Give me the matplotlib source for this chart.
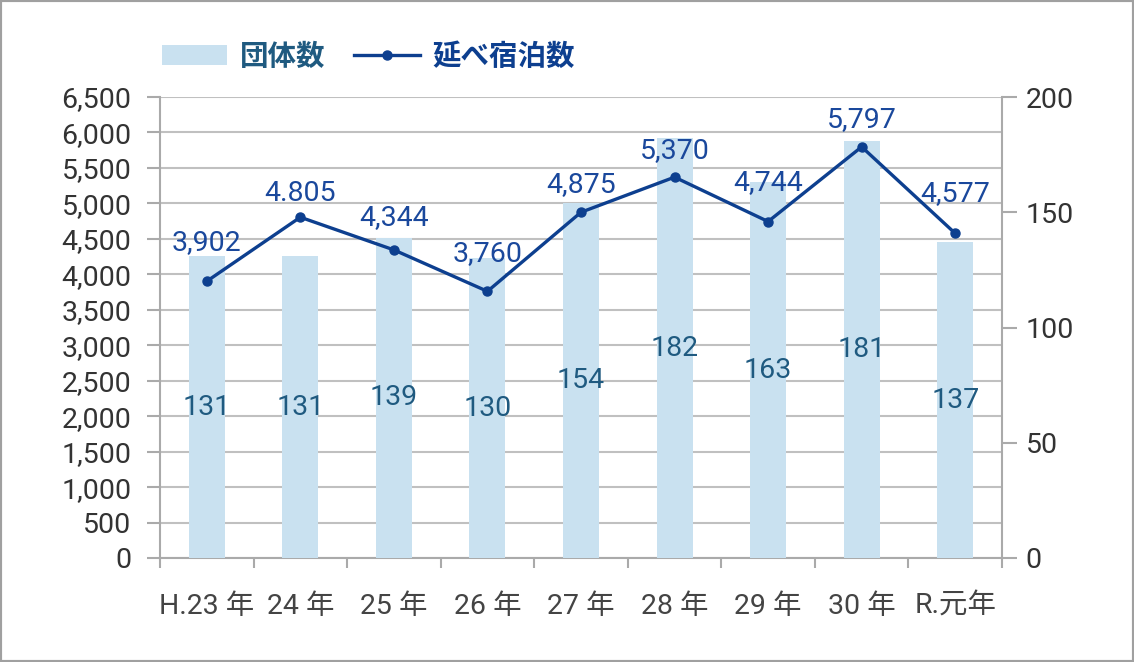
import numpy as np
import matplotlib
matplotlib.use("Agg")
import matplotlib.pyplot as plt
from matplotlib.patches import Patch, Rectangle
from matplotlib.lines import Line2D

plt.rcParams['font.family'] = ['Roboto', 'Noto Sans CJK JP', 'DejaVu Sans']

# Data
years = ["H.23 年", "24 年", "25 年", "26 年", "27 年", "28 年", "29 年", "30 年", "R.元年"]
groups = [131, 131, 139, 130, 154, 182, 163, 181, 137]           # 団体数 (right axis)
stays = [3902, 4805, 4344, 3760, 4875, 5370, 4744, 5797, 4577]    # 延べ宿泊数 (left axis)
stay_labels = ["3,902", "4.805", "4,344", "3,760", "4,875", "5,370", "4,744", "5,797", "4,577"]

# Label offsets above points (points)
label_dy = [28, 17, 23, 27, 20, 19, 28, 20, 29]

bar_color = "#c9e1f0"
line_color = "#0d3f8f"
bar_text = "#1f5a80"
line_text = "#1a489c"
grey = "#aaaaaa"
tick_text = "#333333"
fs = 20.5

fig = plt.figure(figsize=(11.34, 6.62), dpi=100)
fig.patches.append(Rectangle((0, 0), 1, 1, transform=fig.transFigure, fill=False,
                             edgecolor="#a0a0a0", linewidth=3, zorder=10))

rect = [160 / 1134, 104 / 662, 842 / 1134, 461 / 662]
ax = fig.add_axes(rect)        # grid + left scale
ax2 = ax.twinx()               # bars, right scale
ax3 = ax.twinx()               # line, left scale
x = np.arange(len(years))

# grid axis
ax.set_xlim(-0.5, len(years) - 0.5)
ax.set_ylim(0, 6500)
ax.set_yticks(np.arange(0, 6501, 500))
ax.set_yticklabels([f"{v:,}" for v in range(0, 6501, 500)])
ax.yaxis.grid(True, color="#c0c0c0", linewidth=1.5)
ax.set_axisbelow(True)
ax.set_xticks(np.arange(-0.5, len(years), 1))
ax.set_xticklabels([])
ax.set_xticks(x, minor=True)
ax.set_xticklabels(years, minor=True)
ax.tick_params(axis='y', length=9.5, width=1.5, color=grey, pad=11,
               labelsize=fs, labelcolor=tick_text)
ax.tick_params(axis='x', which='major', length=7.5, width=1.5, color=grey)
ax.tick_params(axis='x', which='minor', length=0, pad=25, labelsize=fs, labelcolor="#444444")
for s in ['top', 'right']:
    ax.spines[s].set_visible(False)
for s in ['left', 'bottom']:
    ax.spines[s].set_color(grey)
    ax.spines[s].set_linewidth(1.5)

# bars
ax2.bar(x, groups, width=0.385, color=bar_color, zorder=2)
ax2.set_ylim(0, 200)
ax2.set_yticks(np.arange(0, 201, 50))
ax2.tick_params(axis='y', length=11, width=1.5, color=grey, pad=6,
                labelsize=fs, labelcolor=tick_text)
for s in ['top', 'left', 'bottom']:
    ax2.spines[s].set_visible(False)
ax2.spines['right'].set_color(grey)
ax2.spines['right'].set_linewidth(1.5)
for xi, g in zip(x, groups):
    ax2.text(xi, g / 2, str(g), ha='center', va='center', fontsize=fs, color=bar_text)

# line
ax3.set_ylim(0, 6500)
ax3.set_xlim(-0.5, len(years) - 0.5)
ax3.plot(x, stays, color=line_color, linewidth=2.4, marker='o', markersize=6.5)
for xi, v, lab, dy in zip(x, stays, stay_labels, label_dy):
    ax3.annotate(lab, (xi, v), xytext=(0, dy), textcoords='offset points',
                 ha='center', va='center', fontsize=fs, color=line_text)
ax3.set_axis_off()

# legend
handles = [Patch(facecolor=bar_color, edgecolor='none'),
           Line2D([], [], color=line_color, linewidth=2.4, marker='o', markersize=6.5)]
leg = fig.legend(handles, ["団体数", "延べ宿泊数"], loc='center left',
                 bbox_to_anchor=(162 / 1134, 1 - 57 / 662), ncol=2, frameon=False,
                 borderaxespad=0, borderpad=0, handlelength=2.3, handleheight=0.72,
                 handletextpad=0.45, columnspacing=1.0,
                 prop={'family': ['Noto Sans CJK JP'], 'weight': 'bold', 'size': 20.5})
leg.get_texts()[0].set_color(bar_text)
leg.get_texts()[1].set_color(line_color)

fig.savefig("out.png", dpi=100)
